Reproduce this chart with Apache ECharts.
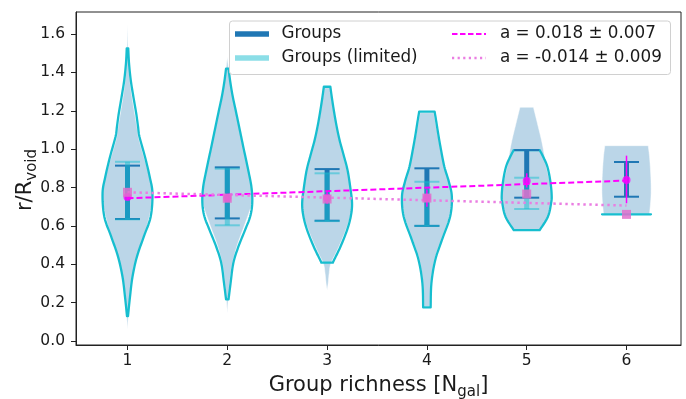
<!DOCTYPE html>
<html>
<head>
<meta charset="utf-8">
<script src="https://cdn.jsdelivr.net/npm/echarts@6/dist/echarts.min.js"></script>
<style>
html, body { margin: 0; padding: 0; background: #fff; }
#chart { width: 686px; height: 399px; }
</style>
</head>
<body>
<div id="chart"></div>
<script>
// Group richness categories and tick labels
const richness = [1, 2, 3, 4, 5, 6];
const xTickLabels = ['1', '2', '3', '4', '5', '6'];
const yTickValues = [0.0, 0.2, 0.4, 0.6, 0.8, 1.0, 1.2, 1.4, 1.6];

// Violin profiles: [r/Rvoid, relative half-width], listed bottom to top
const groupsViolin1 = [[0.06,0.0],[0.12,0.03],[0.2,0.07],[0.3,0.15],[0.4,0.3],[0.5,0.52],[0.6,0.78],[0.7,0.96],[0.77,1.0],[0.85,0.9],[0.95,0.68],[1.05,0.46],[1.1,0.4],[1.2,0.27],[1.3,0.15],[1.4,0.07],[1.5,0.03],[1.65,0.0]];
const groupsViolin2 = [[0.145,0.0],[0.22,0.04],[0.3,0.1],[0.4,0.2],[0.5,0.4],[0.6,0.68],[0.7,0.95],[0.75,1.0],[0.85,0.9],[1.0,0.66],[1.1,0.5],[1.2,0.34],[1.3,0.18],[1.4,0.07],[1.48,0.0]];
const groupsViolin3 = [[0.266,0.0],[0.3,0.04],[0.35,0.08],[0.4,0.14],[0.45,0.32],[0.5,0.5],[0.578,0.75],[0.65,0.93],[0.717,1.0],[0.8,0.93],[0.89,0.8],[1.0,0.58],[1.1,0.4],[1.2,0.27],[1.3,0.14],[1.32,0.12]];
const groupsViolin4 = [[0.18,0.12],[0.3,0.16],[0.42,0.3],[0.526,0.57],[0.648,0.9],[0.752,1.0],[0.83,0.88],[0.908,0.7],[1.0,0.55],[1.082,0.43],[1.14,0.35],[1.19,0.28]];
const groupsViolin5 = [[0.578,0.52],[0.648,0.85],[0.735,1.0],[0.804,0.97],[0.908,0.79],[1.03,0.62],[1.134,0.43],[1.218,0.27]];
const groupsViolin6 = [[0.66,0.92],[0.75,0.98],[0.84,0.98],[0.95,0.93],[1.018,0.87]];

const limitedViolin1 = [[0.13,0.02],[0.23,0.1],[0.335,0.2],[0.44,0.38],[0.543,0.65],[0.648,0.93],[0.77,1.0],[0.856,0.89],[0.96,0.7],[1.065,0.48],[1.12,0.42],[1.186,0.35],[1.27,0.24],[1.36,0.13],[1.45,0.06],[1.525,0.03]];
const limitedViolin2 = [[0.217,0.05],[0.3,0.13],[0.405,0.24],[0.49,0.44],[0.578,0.71],[0.65,0.92],[0.72,1.0],[0.8,0.97],[0.89,0.84],[1.0,0.66],[1.1,0.5],[1.2,0.34],[1.273,0.22],[1.35,0.12],[1.42,0.05]];
const limitedViolin3 = [[0.408,0.23],[0.42,0.27],[0.49,0.53],[0.578,0.8],[0.65,0.95],[0.717,1.0],[0.8,0.93],[0.89,0.82],[0.97,0.66],[1.047,0.5],[1.12,0.38],[1.186,0.29],[1.26,0.2],[1.325,0.13]];
const limitedViolin4 = [[0.175,0.15],[0.3,0.18],[0.42,0.33],[0.526,0.6],[0.648,0.93],[0.752,1.0],[0.83,0.88],[0.908,0.7],[1.0,0.56],[1.082,0.45],[1.14,0.38],[1.195,0.31]];
const limitedViolin5 = [[0.578,0.52],[0.648,0.85],[0.72,0.98],[0.762,1.0],[0.83,0.95],[0.908,0.83],[0.96,0.66],[0.995,0.52]];
const limitedViolin6 = [[0.66,0.98],[0.66,0.98]];

const groupsViolins = [groupsViolin1, groupsViolin2, groupsViolin3, groupsViolin4, groupsViolin5, groupsViolin6];
const limitedViolins = [limitedViolin1, limitedViolin2, limitedViolin3, limitedViolin4, limitedViolin5, limitedViolin6];

// Error bar ranges
const groupsErrLow   = [0.636, 0.639, 0.627, 0.600, 0.747, 0.752];
const groupsErrHigh  = [0.914, 0.905, 0.896, 0.900, 0.995, 0.933];
const limitedErrLow  = [0.634, 0.603, 0.625, 0.600, 0.688, null];
const limitedErrHigh = [0.934, 0.898, 0.874, 0.830, 0.851, null];

// Mean values
const groupsMean     = [0.750, 0.745, 0.745, 0.745, 0.834, 0.839];
const groupsMeanLow  = [0.735, 0.725, 0.715, 0.700, 0.800, 0.718];
const groupsMeanHigh = [0.765, 0.765, 0.775, 0.790, 0.874, 0.966];
const limitedMean    = [0.775, 0.744, 0.740, 0.745, 0.766, 0.660];

// Linear fits (end points)
const fitGroups  = [[1, 0.744], [6, 0.836]];
const fitLimited = [[1, 0.775], [6, 0.706]];

const fitGroupsLabel  = 'a = 0.018 ± 0.007';
const fitLimitedLabel = 'a = -0.014 ± 0.009';

const FONT = 'DejaVu Sans';
const TEXT = '#1a1a1a';
const HALF = 0.25;     // max violin half-width in x units
const CAP = 12.5;      // error bar cap half-width in px

// Catmull-Rom style smoothing of an open pixel path (end points kept)
function smoothPath(pts, steps) {
  if (pts.length < 3) return pts;
  const out = [];
  for (let i = 0; i < pts.length - 1; i++) {
    const p0 = pts[Math.max(i - 1, 0)], p1 = pts[i], p2 = pts[i + 1], p3 = pts[Math.min(i + 2, pts.length - 1)];
    for (let s = 0; s < steps; s++) {
      const t = s / steps, t2 = t * t, t3 = t2 * t;
      out.push([
        0.5 * (2 * p1[0] + (-p0[0] + p2[0]) * t + (2 * p0[0] - 5 * p1[0] + 4 * p2[0] - p3[0]) * t2 + (-p0[0] + 3 * p1[0] - 3 * p2[0] + p3[0]) * t3),
        0.5 * (2 * p1[1] + (-p0[1] + p2[1]) * t + (2 * p0[1] - 5 * p1[1] + 4 * p2[1] - p3[1]) * t2 + (-p0[1] + 3 * p1[1] - 3 * p2[1] + p3[1]) * t3)
      ]);
    }
  }
  out.push(pts[pts.length - 1]);
  return out;
}

function violinSeries(name, profiles, style, z) {
  return {
    type: 'custom', name: name, z: z, silent: true,
    data: richness.map((x, i) => [x, profiles[i][0][0], profiles[i][profiles[i].length - 1][0]]),
    encode: { x: 0, y: [1, 2] },
    renderItem: function (params, api) {
      const x = api.value(0);
      const prof = profiles[params.dataIndex];
      const right = smoothPath(prof.map(p => api.coord([x + HALF * p[1], p[0]])), 8);
      const left = smoothPath(prof.slice().reverse().map(p => api.coord([x - HALF * p[1], p[0]])), 8);
      return { type: 'polygon', shape: { points: right.concat(left) }, style: style };
    }
  };
}

function errorSeries(name, lows, highs, color, barWidth, capWidth, caps, z) {
  const data = [];
  richness.forEach((x, i) => { if (lows[i] != null) data.push([x, lows[i], highs[i]]); });
  return {
    type: 'custom', name: name, z: z, silent: true,
    data: data,
    encode: { x: 0, y: [1, 2] },
    renderItem: function (params, api) {
      const x = api.value(0);
      const lo = api.coord([x, api.value(1)]);
      const hi = api.coord([x, api.value(2)]);
      const children = [{
        type: 'line', shape: { x1: lo[0], y1: lo[1], x2: hi[0], y2: hi[1] },
        style: { stroke: color, lineWidth: barWidth }
      }];
      if (caps) {
        [lo, hi].forEach(p => children.push({
          type: 'line', shape: { x1: p[0] - CAP, y1: p[1], x2: p[0] + CAP, y2: p[1] },
          style: { stroke: color, lineWidth: capWidth }
        }));
      }
      return { type: 'group', children: children };
    }
  };
}

const chart = echarts.init(document.getElementById('chart'), null, { renderer: 'canvas' });

const legendX = 229, legendY = 20.5;
const graphic = [
  // legend frame
  { type: 'rect', left: legendX, top: legendY, z: 100,
    shape: { width: 441, height: 53.5, r: 3 },
    style: { fill: 'rgba(255,255,255,0.85)', stroke: '#d0d0d0', lineWidth: 1 } },
  { type: 'line', z: 101, shape: { x1: 235, y1: 34, x2: 269, y2: 34 },
    style: { stroke: '#2077b4', lineWidth: 5.5 } },
  { type: 'line', z: 101, shape: { x1: 235, y1: 58, x2: 269, y2: 58 },
    style: { stroke: '#8bdee7', lineWidth: 5.5 } },
  { type: 'text', z: 101, x: 281.5, y: 34,
    style: { text: 'Groups', fontSize: 16.8, fontFamily: FONT, fill: TEXT, verticalAlign: 'middle' } },
  { type: 'text', z: 101, x: 281.5, y: 58,
    style: { text: 'Groups (limited)', fontSize: 16.8, fontFamily: FONT, fill: TEXT, verticalAlign: 'middle' } },
  { type: 'line', z: 101, shape: { x1: 452, y1: 34, x2: 486, y2: 34 },
    style: { stroke: '#ff00ff', lineWidth: 1.8, lineDash: [5.5, 2.5] } },
  { type: 'line', z: 101, shape: { x1: 452, y1: 58, x2: 486, y2: 58 },
    style: { stroke: '#ea7ee2', lineWidth: 2.4, lineDash: [2.2, 3.4] } },
  { type: 'text', z: 101, x: 500, y: 34,
    style: { text: fitGroupsLabel, fontSize: 16.8, fontFamily: FONT, fill: TEXT, verticalAlign: 'middle' } },
  { type: 'text', z: 101, x: 500, y: 58,
    style: { text: fitLimitedLabel, fontSize: 16.8, fontFamily: FONT, fill: TEXT, verticalAlign: 'middle' } },
  // axis titles
  { type: 'text', x: 378.5, y: 386,
    style: { text: '{m|Group richness [N}{s|gal}{m|]}', align: 'center', verticalAlign: 'middle',
      rich: { m: { fontSize: 21, lineHeight: 27, fontFamily: FONT, fill: TEXT },
              s: { fontSize: 15, lineHeight: 14, verticalAlign: 'bottom', fontFamily: FONT, fill: TEXT } } } },
  { type: 'text', x: 26, y: 180, rotation: Math.PI / 2,
    style: { text: '{m|r/R}{s|void}', align: 'center', verticalAlign: 'middle',
      rich: { m: { fontSize: 21, lineHeight: 27, fontFamily: FONT, fill: TEXT },
              s: { fontSize: 15, lineHeight: 14, verticalAlign: 'bottom', fontFamily: FONT, fill: TEXT } } } }
];

const option = {
  animation: false,
  backgroundColor: '#ffffff',
  grid: { left: 76, right: 5, top: 12, bottom: 54, show: true, borderColor: '#222', borderWidth: 1, backgroundColor: 'transparent' },
  xAxis: {
    type: 'value', min: 0.484, max: 6.546,
    axisLine: { show: true, onZero: false, lineStyle: { color: '#222', width: 1 } },
    axisTick: { show: true, customValues: richness, length: 5, lineStyle: { color: '#222', width: 1 } },
    axisLabel: { customValues: richness, formatter: v => xTickLabels[richness.indexOf(v)],
      margin: 8, fontSize: 15.5, fontFamily: FONT, color: TEXT },
    splitLine: { show: false }
  },
  yAxis: {
    type: 'value', min: -0.0208, max: 1.7147,
    axisLine: { show: true, onZero: false, lineStyle: { color: '#222', width: 1 } },
    axisTick: { show: true, customValues: yTickValues, length: 5, lineStyle: { color: '#222', width: 1 } },
    axisLabel: { customValues: yTickValues, formatter: v => v.toFixed(1),
      margin: 11, fontSize: 15.5, fontFamily: FONT, color: TEXT },
    splitLine: { show: false }
  },
  graphic: graphic,
  series: [
    violinSeries('Groups', groupsViolins, { fill: 'rgba(31,119,180,0.3)', stroke: 'rgba(255,255,255,0.6)', lineWidth: 0.8 }, 1),
    violinSeries('Groups (limited)', limitedViolins, { fill: 'none', stroke: '#17becf', lineWidth: 2.3, lineJoin: 'round' }, 2),
    errorSeries('Groups', groupsErrLow, groupsErrHigh, '#1f77b4', 5, 2, true, 3),
    errorSeries('Groups (limited)', limitedErrLow, limitedErrHigh, 'rgba(23,190,207,0.5)', 5, 2, true, 4),
    {
      type: 'line', name: fitGroupsLabel, z: 5, silent: true, data: fitGroups, symbol: 'none',
      lineStyle: { color: '#ff00ff', width: 2, type: [6, 3] }
    },
    {
      type: 'line', name: fitLimitedLabel, z: 5, silent: true, data: fitLimited, symbol: 'none',
      lineStyle: { color: '#ea7ee2', width: 2.5, type: [2.4, 3.6] }
    },
    errorSeries('Groups mean', groupsMeanLow, groupsMeanHigh, '#ff00ff', 1.5, 0, false, 6),
    {
      type: 'scatter', name: 'Groups mean', z: 7, silent: true,
      data: richness.map((x, i) => [x, groupsMean[i]]),
      symbol: 'circle', symbolSize: 8, itemStyle: { color: '#ff00ff' }
    },
    {
      type: 'scatter', name: 'Groups (limited) mean', z: 8, silent: true,
      data: richness.map((x, i) => [x, limitedMean[i]]),
      symbol: 'rect', symbolSize: 9, itemStyle: { color: '#e070cc', opacity: 0.85 }
    }
  ]
};

chart.setOption(option);
</script>
</body>
</html>
